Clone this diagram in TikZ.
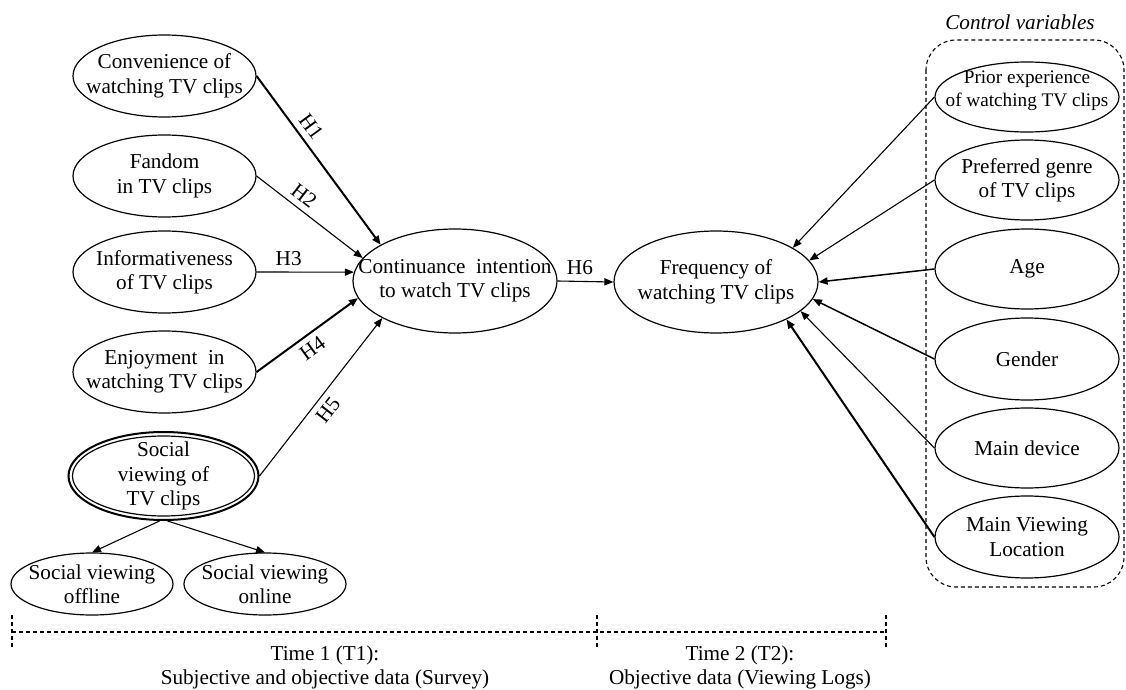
\documentclass[tikz,border=0pt]{standalone}
\usepackage{fontspec}
\setmainfont{Liberation Serif}
\usetikzlibrary{shapes.geometric,arrows.meta}
\begin{document}
\begin{tikzpicture}[x=0.5pt,y=-0.5pt,
  every node/.style={font=\fontsize{10.6}{12.2}\selectfont},
  ell/.style 2 args={ellipse, draw, line width=0.6pt, inner sep=0pt, minimum width=#1, minimum height=#2},
  txt/.style={align=center, inner sep=0pt},
  arr/.style={-{Triangle[length=4.5pt,width=3.6pt]}, line width=0.55pt},
  arrm/.style={arr, line width=0.75pt},
  arrb/.style={arr, line width=1pt},
  hl/.style={inner sep=3pt},
  dsh/.style={line width=0.55pt, dash pattern=on 2pt off 1.5pt}
]
\useasboundingbox (0,0) rectangle (1126,690);

% left constructs
\node[ell={91.5pt}{41pt}, label={[txt]center:Convenience of\\watching TV clips}] (conv) at (164.5,76) {};
\node[ell={91.5pt}{41pt}, label={[txt]center:Fandom\\in TV clips}] (fan) at (164.5,176) {};
\node[ell={91.5pt}{41pt}, label={[txt]center:Informativeness\\of TV clips}] (info) at (164.5,272) {};
\node[ell={91.5pt}{41pt}, label={[txt]center:Enjoyment\ \ in\\watching TV clips}] (enj) at (164.5,372) {};
\node[ell={95pt}{44pt}, line width=1pt] (soc) at (163.5,476) {};
\node[ell={91pt}{40pt}, label={[txt]center:Social\\viewing of\\TV clips}] (socin) at (163.5,476) {};
\node[ell={81pt}{31pt}, label={[txt]center:Social viewing\\offline}] (off) at (92,584) {};
\node[ell={81pt}{31pt}, label={[txt]center:Social viewing\\online}] (onl) at (265,584) {};

% central constructs
\node[ell={102pt}{52pt}, label={[txt]center:Continuance\ \ intention\\to watch TV clips}] (cont) at (455,281) {};
\node[ell={102pt}{51pt}, label={[txt]center:Frequency of\\watching TV clips}] (freq) at (716,282) {};

% control variables
\node[ell={92pt}{35pt}] (prior) at (1027,97) {};
\node[txt, font=\fontsize{9.6}{11.5}\selectfont] (priort) at (1027,91) {Prior experience\\of watching TV clips};
\node[ell={92pt}{40pt}, label={[txt]center:Preferred genre\\of TV clips}] (pref) at (1027,180) {};
\node[ell={92pt}{40pt}, label={[txt]center:Age}] (age) at (1027,269) {};
\node[ell={92pt}{41pt}, label={[txt]center:Gender}] (gen) at (1027,359) {};
\node[ell={92pt}{40pt}, label={[txt]center:Main device}] (dev) at (1027,448) {};
\node[ell={92pt}{41pt}, label={[txt]center:Main Viewing\\Location}] (loc) at (1027,537) {};
\node[font=\fontsize{10.6}{12.2}\selectfont\itshape] (cv) at (1020,22) {Control variables};
\draw[dsh, rounded corners=15pt] (926,40) rectangle (1124,587);

% hypotheses
\draw[arrb] (conv.east) -- node[hl,pos=.35,sloped,above]{H1} (cont.154);
\draw[arr] (fan.east) -- node[hl,pos=.37,sloped,above]{H2} (cont.166);
\draw[arr] (info.east) -- node[hl,pos=.33,above]{H3} (cont.175);
\draw[arrb] (enj.east) -- node[hl,pos=.47,sloped,below]{H4} (cont.190);
\draw[arr] (soc.east) -- node[hl,pos=.47,sloped,below]{H5} (cont.207);
\draw[arr] (cont.east) -- node[hl,pos=.4,above]{H6} (freq.west);
\draw[arr] (soc.265) -- (off.north);
\draw[arr] (soc.275) -- (onl.north);

% controls
\draw[arr] (prior.west) -- (freq.24);
\draw[arr] (pref.west) -- (freq.13);
\draw[arrm] (age.west) -- (freq.east);
\draw[arrm] (gen.west) -- (freq.-10);
\draw[arr] (dev.west) -- (freq.-19);
\draw[arrb] (loc.west) -- (freq.-28);

% timeline
\coordinate (tl) at (12,632);
\coordinate (tm) at (597,632);
\coordinate (tr) at (886,632);
\coordinate (tla) at (12,615); \coordinate (tlb) at (12,648);
\coordinate (tma) at (597,615); \coordinate (tmb) at (597,648);
\coordinate (tra) at (886,615); \coordinate (trb) at (886,648);
\draw[dsh] (tl) -- (tr);
\draw[dsh] (tla) -- (tlb);
\draw[dsh] (tma) -- (tmb);
\draw[dsh] (tra) -- (trb);
\node[txt, anchor=north] (t1) at (325,645) {Time 1 (T1):\\Subjective and objective data (Survey)};
\node[txt, anchor=north] (t2) at (740,645) {Time 2 (T2):\\Objective data (Viewing Logs)};
\end{tikzpicture}
\end{document}
